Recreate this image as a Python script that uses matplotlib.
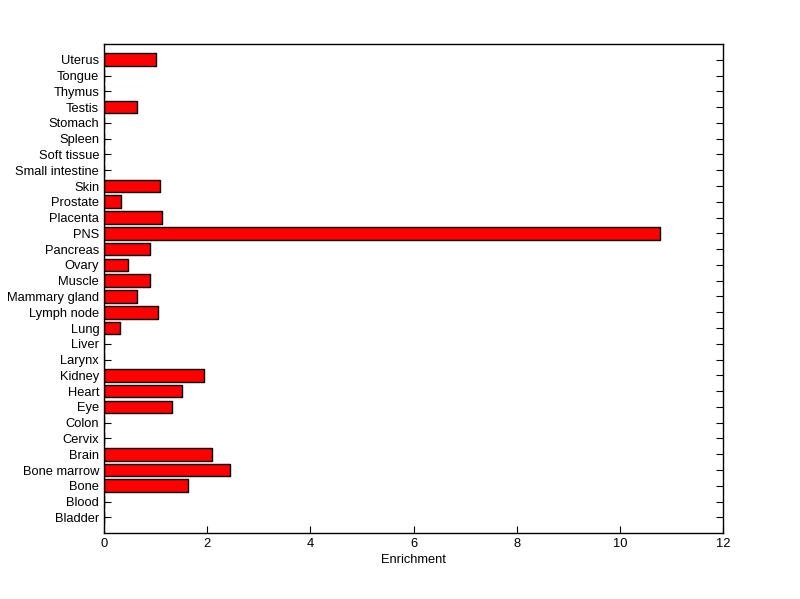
import matplotlib
matplotlib.use("Agg")
import matplotlib.pyplot as plt
import numpy as np

plt.rcParams['font.family'] = ['Liberation Sans', 'DejaVu Sans']

tissues = ['Bladder', 'Blood', 'Bone', 'Bone marrow', 'Brain', 'Cervix', 'Colon',
           'Eye', 'Heart', 'Kidney', 'Larynx', 'Liver', 'Lung', 'Lymph node',
           'Mammary gland', 'Muscle', 'Ovary', 'Pancreas', 'PNS', 'Placenta',
           'Prostate', 'Skin', 'Small intestine', 'Soft tissue', 'Spleen',
           'Stomach', 'Testis', 'Thymus', 'Tongue', 'Uterus']
enrichment = [0, 0, 1.63, 2.44, 2.09, 0, 0,
              1.32, 1.51, 1.94, 0, 0, 0.31, 1.05,
              0.64, 0.89, 0.47, 0.89, 10.78, 1.12,
              0.33, 1.09, 0, 0, 0,
              0, 0.64, 0, 0, 1.01]

y = np.arange(1, len(tissues) + 1)

fig = plt.figure(figsize=(8, 5.99), dpi=100)
ax = fig.add_axes([0.13, 0.110, 0.774, 0.8165])
ax.set_axisbelow(True)
ax.barh(y, enrichment, height=0.8, color='#ff0000', edgecolor='black', linewidth=1)

ax.set_xlim(0, 12)
ax.set_ylim(0, len(tissues) + 1)
ax.set_yticks(y)
ax.set_yticklabels(tissues)
ax.set_xticks(np.arange(0, 13, 2))
ax.tick_params(axis='y', direction='in', left=True, right=True, length=5, labelsize=9.3)
ax.tick_params(axis='x', direction='in', top=False, length=5, labelsize=9.3)
ax.set_xlabel('Enrichment', fontsize=9.3, labelpad=3)
for s in ax.spines.values():
    s.set_linewidth(1)

fig.savefig("out.png")
